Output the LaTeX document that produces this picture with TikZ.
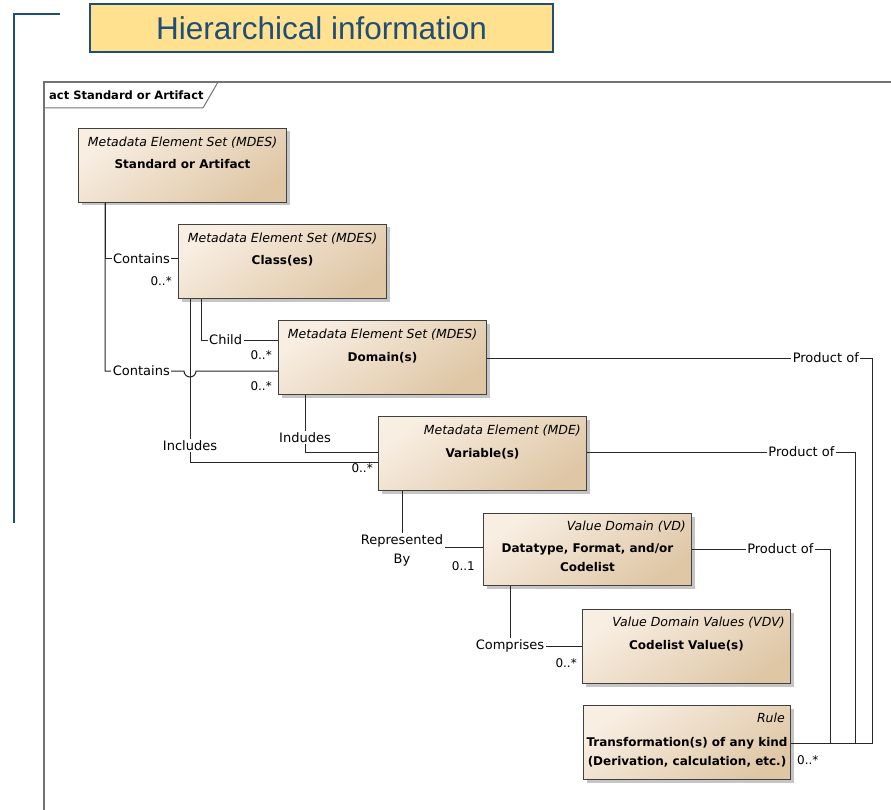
\documentclass[tikz,border=0pt]{standalone}
\usepackage{fontspec}
\setmainfont{DejaVu Sans}
\newfontfamily\titlefont{Liberation Sans}
\usetikzlibrary{positioning, shadows, backgrounds}

\definecolor{titleblue}{HTML}{1F4E79}
\definecolor{titlefill}{HTML}{FFE18F}
\definecolor{boxlight}{HTML}{F8EEE2}
\definecolor{boxdark}{HTML}{DFC7A6}

\tikzset{
	umlbox/.style={draw=black!75, line width=1pt, anchor=north west, inner sep=0pt,
		minimum width=208pt, minimum height=74pt, top color=boxlight, bottom color=boxdark,
		shading angle=35, drop shadow={shadow xshift=3pt, shadow yshift=-3pt, fill=black!45, opacity=0.5}},
	stereo/.style={font=\fontsize{12.5}{14}\selectfont\itshape, inner sep=1pt},
	elname/.style={font=\fontsize{12}{19}\selectfont\bfseries, align=center, inner sep=1pt},
	rel/.style={draw=black!85, line width=1pt},
	lbl/.style={fill=white, font=\fontsize{13}{19}\selectfont, inner sep=1.5pt, align=center},
	mult/.style={font=\fontsize{12}{14}\selectfont, inner sep=1pt}
}

\begin{document}
\begin{tikzpicture}[x=1pt, y=-1pt]
	\useasboundingbox (0,0) rectangle (891,810);

	% heading and frame
	\draw[titleblue, line width=2pt] (60,14) -| (14,523);
	\node at (321.5,28) [draw=titleblue, line width=1.5pt, fill=titlefill, minimum width=463pt, minimum height=48pt,
		font=\titlefont\fontsize{31.5}{33}\selectfont, text=titleblue] (title) {Hierarchical information};
	\draw[black!55, line width=1.2pt] (44,810) |- (891,82);
	\draw[black!55, line width=1pt] (44,108) -- (203,108) -- (218,82);
	\node at (48,95) [anchor=west, inner sep=1pt, font=\fontsize{11.5}{13}\selectfont\bfseries] (frame-lbl) {act Standard or Artifact};

	% elements
	\node at (78,128) [umlbox] (std) {};
	\node [stereo, below=8pt of std.north] (std-st) {Metadata Element Set (MDES)};
	\node [elname, below=30pt of std.north] (std-nm) {Standard or Artifact};

	\node at (178,224) [umlbox] (cls) {};
	\node [stereo, below=8pt of cls.north] (cls-st) {Metadata Element Set (MDES)};
	\node [elname, below=30pt of cls.north] (cls-nm) {Class(es)};

	\node at (278,320) [umlbox] (dom) {};
	\node [stereo, below=8pt of dom.north] (dom-st) {Metadata Element Set (MDES)};
	\node [elname, below=31pt of dom.north] (dom-nm) {Domain(s)};

	\node at (378,416) [umlbox] (var) {};
	\node [stereo, below left=8pt and 5pt of var.north east] (var-st) {Metadata Element (MDE)};
	\node [elname, below=31pt of var.north] (var-nm) {Variable(s)};

	\node at (483,513) [umlbox, minimum height=72pt] (vd) {};
	\node [stereo, below left=7pt and 5pt of vd.north east] (vd-st) {Value Domain (VD)};
	\node [elname, below=29pt of vd.north] (vd-nm) {Datatype, Format, and/or\\Codelist};

	\node at (582,609) [umlbox] (vdv) {};
	\node [stereo, below left=7pt and 5pt of vdv.north east] (vdv-st) {Value Domain Values (VDV)};
	\node [elname, below=30pt of vdv.north] (vdv-nm) {Codelist Value(s)};

	\node at (583,705) [umlbox, minimum width=207pt] (rule) {};
	\node [stereo, below left=7pt and 5pt of rule.north east] (rule-st) {Rule};
	\node [elname, below=31pt of rule.north] (rule-nm) {Transformation(s) of any kind\\(Derivation, calculation, etc.)};

	% connection points
	\coordinate (inc) at ([xshift=12pt]cls.south west);
	\coordinate (dom-in2) at ([yshift=-51pt]dom.north west);
	\coordinate (bus-a) at (872,743);
	\coordinate (bus-b) at (855,743);
	\coordinate (bus-c) at (830,743);

	% relations
	\draw[rel] ([xshift=27pt]std.south west) |- node[lbl, pos=0.75] (r-con1) {Contains} ([yshift=-35pt]cls.north west);
	\draw[rel] ([xshift=27pt]std.south west) |- node[lbl, pos=0.73] (r-con2) {Contains} ([xshift=-6pt]inc |- dom-in2)
		arc[start angle=180, end angle=360, radius=6pt] -- (dom-in2);
	\draw[rel] ([xshift=23pt]cls.south west) |- node[lbl, pos=0.66] (r-child) {Child} ([yshift=-20pt]dom.north west);
	\draw[rel] (inc) |- node[lbl, pos=0.45] (r-inc1) {Includes} ([yshift=-46pt]var.north west);
	\draw[rel] ([xshift=27pt]dom.south west) |- node[lbl, pos=0.37] (r-inc2) {Indudes} ([yshift=-36pt]var.north west);
	\draw[rel] ([xshift=24pt]var.south west) |- node[lbl, pos=0.5, yshift=-3pt] (r-rep) {Represented\\By} ([yshift=-34pt]vd.north west);
	\draw[rel] ([xshift=27pt]vd.south west) |- node[lbl, pos=0.5] (r-comp) {Comprises} ([yshift=-37pt]vdv.north west);
	\draw[rel] ([yshift=-38pt]dom.north east) -| node[lbl, pos=0.44] (r-prod1) {Product of} (bus-a) -- ([yshift=-38pt]rule.north east);
	\draw[rel] ([yshift=-36pt]var.north east) -| node[lbl, pos=0.40] (r-prod2) {Product of} (bus-b);
	\draw[rel] ([yshift=-36pt]vd.north east) -| node[lbl, pos=0.32] (r-prod3) {Product of} (bus-c);

	% multiplicities
	\node [mult, anchor=east] at ([shift={(-5pt,-57pt)}]cls.north west) (m-cls) {0..*};
	\node [mult, anchor=east] at ([shift={(-5pt,-35pt)}]dom.north west) (m-dom1) {0..*};
	\node [mult, anchor=east] at ([shift={(-5pt,-66pt)}]dom.north west) (m-dom2) {0..*};
	\node [mult, anchor=east] at ([shift={(-4pt,-52pt)}]var.north west) (m-var) {0..*};
	\node [mult, anchor=east] at ([shift={(-7pt,-53pt)}]vd.north west) (m-vd) {0..1};
	\node [mult, anchor=east] at ([shift={(-4pt,-54pt)}]vdv.north west) (m-vdv) {0..*};
	\node [mult, anchor=west] at ([shift={(5pt,-55pt)}]rule.north east) (m-rule) {0..*};
\end{tikzpicture}
\end{document}
